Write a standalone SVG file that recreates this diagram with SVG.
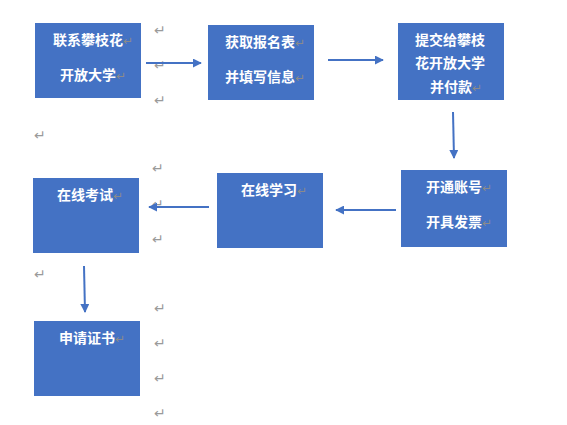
<svg xmlns="http://www.w3.org/2000/svg" width="567" height="425" viewBox="0 0 567 425">
<defs>
<style>
.box{fill:#4472C4;}
.t{font-family:"Noto Sans CJK SC","Liberation Sans",sans-serif;font-size:14px;font-weight:bold;fill:#ffffff;}
.rm{font-family:"DejaVu Sans",sans-serif;font-size:14px;fill:#9a9a9a;font-weight:normal;}
.ri{font-family:"DejaVu Sans",sans-serif;font-size:12px;fill:#8a8a8a;font-weight:normal;}
.c{stroke:#4472C4;stroke-width:2;fill:none;marker-end:url(#ah);}
</style>
<marker id="ah" viewBox="0 0 10 10" refX="9" refY="5" markerWidth="4.5" markerHeight="4.5" orient="auto" markerUnits="strokeWidth">
<path d="M0,0 L10,5 L0,10 z" fill="#4472C4"/>
</marker>
</defs>
<rect width="567" height="425" fill="#ffffff"/>
<g id="marks">
<text class="rm" x="154" y="35">↵</text>
<text class="rm" x="154" y="70">↵</text>
<text class="rm" x="154" y="105">↵</text>
<text class="rm" x="34" y="140">↵</text>
<text class="rm" x="152" y="173">↵</text>
<text class="rm" x="152" y="209">↵</text>
<text class="rm" x="152" y="244">↵</text>
<text class="rm" x="34" y="279">↵</text>
<text class="rm" x="154" y="313">↵</text>
<text class="rm" x="154" y="348">↵</text>
<text class="rm" x="154" y="383">↵</text>
<text class="rm" x="154" y="418">↵</text>
</g>
<g id="n1">
<rect class="box" x="35" y="23" width="106" height="75"/>
<text class="t" x="53" y="45">联系攀枝花<tspan class="ri">↵</tspan></text>
<text class="t" x="60" y="80">开放大学<tspan class="ri">↵</tspan></text>
</g>
<g id="n2">
<rect class="box" x="208" y="25" width="106" height="75"/>
<text class="t" x="225" y="47">获取报名表<tspan class="ri">↵</tspan></text>
<text class="t" x="225" y="82">并填写信息<tspan class="ri">↵</tspan></text>
</g>
<g id="n3">
<rect class="box" x="398" y="23" width="106" height="77"/>
<text class="t" x="415" y="45">提交给攀枝</text>
<text class="t" x="415" y="68">花开放大学</text>
<text class="t" x="430" y="92">并付款<tspan class="ri">↵</tspan></text>
</g>
<g id="n4">
<rect class="box" x="401" y="170" width="106" height="77"/>
<text class="t" x="426" y="192">开通账号<tspan class="ri">↵</tspan></text>
<text class="t" x="426" y="227">开具发票<tspan class="ri">↵</tspan></text>
</g>
<g id="n5">
<rect class="box" x="217" y="173" width="106" height="75"/>
<text class="t" x="241" y="195">在线学习<tspan class="ri">↵</tspan></text>
</g>
<g id="n6">
<rect class="box" x="33" y="178" width="106" height="75"/>
<text class="t" x="57" y="200">在线考试<tspan class="ri">↵</tspan></text>
</g>
<g id="n7">
<rect class="box" x="34" y="321" width="106" height="75"/>
<text class="t" x="59" y="343">申请证书<tspan class="ri">↵</tspan></text>
</g>
<g id="connectors">
<line class="c" x1="146" y1="63" x2="201" y2="63"/>
<line class="c" x1="328" y1="60" x2="383" y2="60"/>
<line class="c" x1="453" y1="112" x2="454" y2="158"/>
<line class="c" x1="396" y1="210" x2="336" y2="210"/>
<line class="c" x1="209" y1="207" x2="149" y2="207"/>
<line class="c" x1="84" y1="266" x2="85" y2="312"/>
</g>
</svg>
